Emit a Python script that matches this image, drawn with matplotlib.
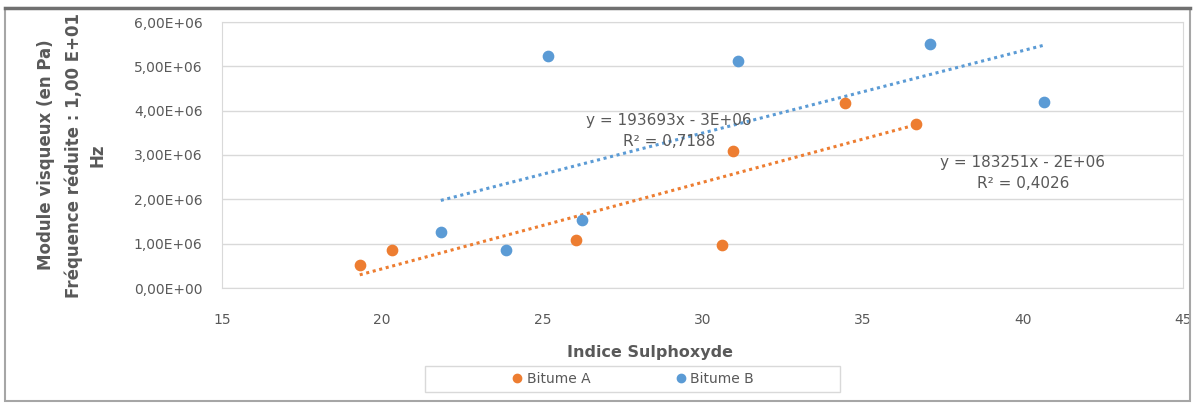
import matplotlib
matplotlib.use("Agg")
import matplotlib.pyplot as plt
from matplotlib.patches import Rectangle
from matplotlib.lines import Line2D
import numpy as np

# Bitume A (orange)
x_a = [19.3, 20.3, 26.05, 30.6, 30.96, 34.44, 36.65]
y_a = [0.52e6, 0.86e6, 1.08e6, 0.97e6, 3.09e6, 4.18e6, 3.70e6]

# Bitume B (bleu)
x_b = [21.83, 23.88, 25.19, 26.24, 31.12, 37.1, 40.65]
y_b = [1.26e6, 0.86e6, 5.24e6, 1.53e6, 5.12e6, 5.51e6, 4.20e6]

eq_a = "y = 183251x - 2E+06\nR² = 0,4026"
eq_b = "y = 193693x - 3E+06\nR² = 0,7188"

orange = "#ED7D31"
blue = "#5B9BD5"
grey_txt = "#595959"

W, H = 1193, 404
fig = plt.figure(figsize=(W / 100, H / 100), dpi=100)

# plot area in pixels
left, right, top, bottom = 222, 1183, 22, 288
ax = fig.add_axes([left / W, 1 - bottom / H, (right - left) / W, (bottom - top) / H])

ax.scatter(x_a, y_a, s=55, color=orange, zorder=3, label="Bitume A")
ax.scatter(x_b, y_b, s=55, color=blue, zorder=3, label="Bitume B")

# linear trendlines
for xs, ys, c in [(x_a, y_a, orange), (x_b, y_b, blue)]:
    k, b = np.polyfit(xs, ys, 1)
    xx = np.array([min(xs), max(xs)])
    ax.plot(xx, k * xx + b, color=c, lw=2.2, linestyle=(0, (1, 1.2)), zorder=2)

ax.set_xlim(15, 45)
ax.set_ylim(0, 6e6)
ax.set_xticks(range(15, 46, 5))
ax.set_yticks(np.arange(0, 6.01e6, 1e6))


def fmt(v, pos=None):
    if v == 0:
        return "0,00E+00"
    return ("%.2f" % (v / 1e6)).replace(".", ",") + "E+06"


ax.yaxis.set_major_formatter(plt.FuncFormatter(fmt))
ax.tick_params(length=0, labelsize=10, labelcolor=grey_txt)
ax.tick_params(axis="y", pad=14)
ax.tick_params(axis="x", pad=18)
ax.grid(axis="y", color="#D9D9D9", lw=1)
ax.set_axisbelow(True)
for s in ax.spines.values():
    s.set_color("#D9D9D9")

# trendline equations
ax.text(28.95, 3.55e6, eq_b, ha="center", va="center", fontsize=11,
        color=grey_txt, linespacing=1.5)
ax.text(40.0, 2.6e6, eq_a, ha="center", va="center", fontsize=11,
        color=grey_txt, linespacing=1.5)

# axis titles
fig.text(650 / W, 1 - 353 / H, "Indice Sulphoxyde", ha="center", va="center",
         fontsize=11.5, fontweight="bold", color=grey_txt)
ylab = ["Module visqueux (en Pa)", "Fréquence réduite : 1,00 E+01", "Hz"]
for txt, px in zip(ylab, [46, 74, 98]):
    fig.text(px / W, 1 - 155 / H, txt, rotation=90, ha="center", va="center",
             fontsize=12, fontweight="bold", color=grey_txt)

# legend
fig.patches.append(Rectangle((425 / W, 1 - 392 / H), 415 / W, 26 / H,
                             transform=fig.transFigure, fill=False,
                             edgecolor="#D9D9D9", lw=1))
handles = [Line2D([], [], marker="o", ls="", color=orange, markersize=6),
           Line2D([], [], marker="o", ls="", color=blue, markersize=6)]
fig.legend(handles, ["Bitume A", "Bitume B"], loc="center",
           bbox_to_anchor=(632 / W, 1 - 379 / H), ncol=2, frameon=False,
           fontsize=10, labelcolor=grey_txt, handletextpad=0.2,
           columnspacing=6, handlelength=1)

# chart frame
fig.patches.append(Rectangle((5 / W, 1 - 401 / H), 1185 / W, 393 / H,
                             transform=fig.transFigure, fill=False,
                             edgecolor="#A6A6A6", lw=1.5))
fig.lines.append(Line2D([5 / W, 1190 / W], [1 - 8 / H, 1 - 8 / H],
                        transform=fig.transFigure, color="#707070", lw=2.5))

fig.savefig("out.png", dpi=100)
